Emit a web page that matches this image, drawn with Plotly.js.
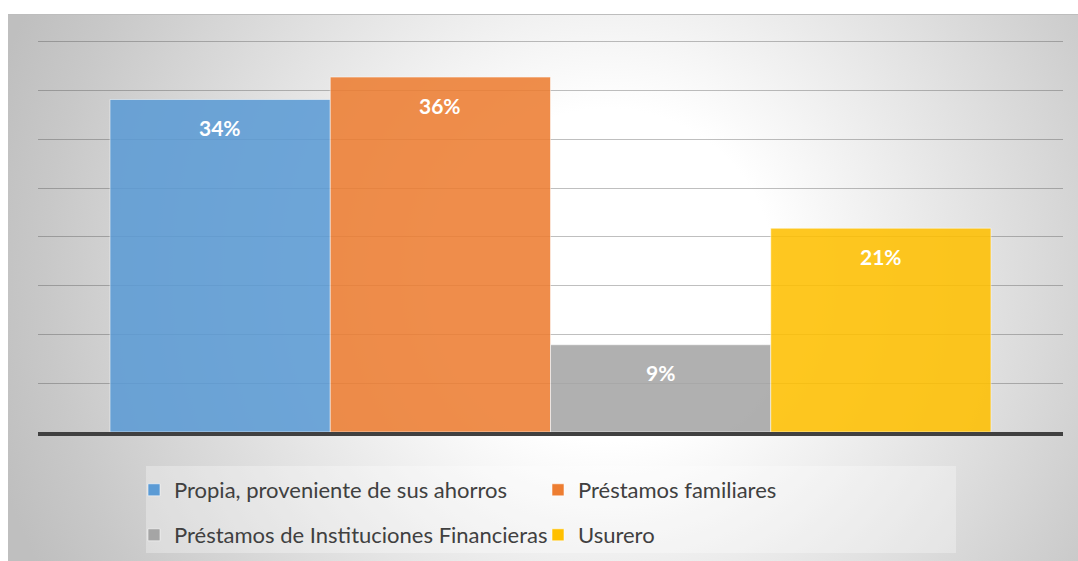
<!DOCTYPE html>
<html>
<head>
<meta charset="utf-8">
<script src="https://cdn.plot.ly/plotly-3.0.1.min.js"></script>
<style>
  html, body { margin: 0; padding: 0; background: #ffffff; }
  #wrap { position: relative; width: 1078px; height: 561px; overflow: hidden; }
  #bg {
    position: absolute; left: 8px; top: 14px; width: 1070px; height: 547px;
    box-sizing: border-box;
    border-top: 1px solid #bdbdbd;
    background: radial-gradient(circle 640px at 600px 260px, #ffffff 0%, #ffffff 26%, #c8c8c8 88%, #bfbfbf 100%);
  }
  #chart { position: absolute; left: 0; top: 0; width: 1078px; height: 561px; }
</style>
</head>
<body>
<div id="wrap">
  <div id="bg"></div>
  <div id="chart"></div>
</div>
<script>
// ---- data ----
const categories = [
  "Propia, proveniente de sus ahorros",
  "Préstamos familiares",
  "Préstamos de Instituciones Financieras",
  "Usurero"
];
const shares = [0.341, 0.364, 0.0895, 0.209];
const colors = ["#5B9BD5", "#ED7D31", "#A5A5A5", "#FFC000"];
const legendIds = ["legend", "legend2", "legend3", "legend4"];

// ---- traces ----
const traces = categories.map((c, i) => ({
  type: "bar",
  x: [c],
  y: [shares[i]],
  name: c,
  legend: legendIds[i],
  marker: { color: colors[i], opacity: 0.87, line: { color: "rgba(255,255,255,0.55)", width: 1 } },
  hoverinfo: "skip"
}));

// data labels (from the data)
const annotations = categories.map((c, i) => ({
  x: c, y: shares[i], xref: "x", yref: "y",
  text: Math.round(shares[i] * 100) + "%",
  showarrow: false, yanchor: "middle", yshift: -28,
  font: { family: "Lato, 'Open Sans', sans-serif", size: 21, color: "#ffffff", weight: 700 }
}));

// legend placement (paper coords): plot area x 38..1063, y 40..432
const legFont = { family: "Lato, 'Open Sans', sans-serif", size: 22, color: "#404040" };
function leg(xp, yp) {
  return { x: xp, y: yp, xanchor: "left", yanchor: "middle", orientation: "h",
           bgcolor: "rgba(0,0,0,0)", borderwidth: 0, font: legFont };
}
const col1 = (134 - 38) / 1025, col2 = (538 - 38) / 1025;
const row1 = (432 - 490) / 392, row2 = (432 - 535) / 392;

const layout = {
  width: 1078, height: 561,
  margin: { l: 38, r: 15, t: 40, b: 129, pad: 0, autoexpand: false },
  paper_bgcolor: "rgba(0,0,0,0)",
  plot_bgcolor: "rgba(0,0,0,0)",
  barmode: "overlay",
  bargap: 0,
  showlegend: true,
  xaxis: {
    type: "category", range: [-0.827, 3.827], autorange: false,
    showticklabels: false, showgrid: false, zeroline: false, ticks: "",
    showline: true, linecolor: "#404040", linewidth: 4, fixedrange: true
  },
  yaxis: {
    range: [0, 0.402], autorange: false, dtick: 0.05, tick0: 0,
    showticklabels: false, ticks: "", showgrid: true,
    gridcolor: "rgba(60,60,60,0.33)", gridwidth: 1,
    zeroline: false, showline: false, fixedrange: true
  },
  legend: leg(col1, row1),
  legend2: leg(col2, row1),
  legend3: leg(col1, row2),
  legend4: leg(col2, row2),
  shapes: [{
    type: "rect", xref: "paper", yref: "paper", layer: "below",
    x0: (146 - 38) / 1025, x1: (956 - 38) / 1025,
    y0: (432 - 466) / 392, y1: (432 - 553) / 392,
    fillcolor: "rgba(255,255,255,0.3)", line: { width: 0 }
  }],
  annotations: annotations,
  font: { family: "Lato, 'Open Sans', sans-serif" }
};

Plotly.newPlot("chart", traces, layout, { displayModeBar: false, staticPlot: true });
</script>
</body>
</html>
